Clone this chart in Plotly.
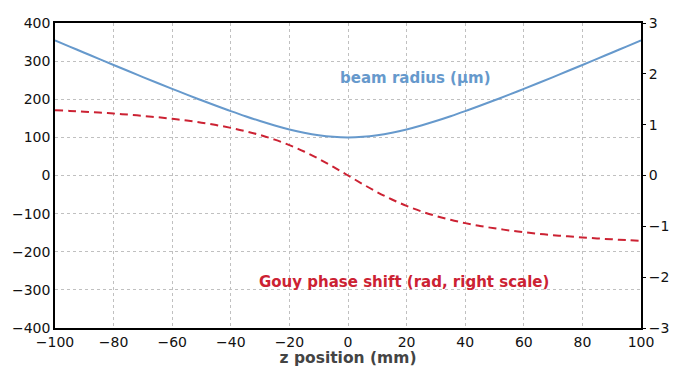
import plotly.graph_objects as go

z_mm = [-100, -95, -90, -85, -80, -75, -70, -65, -60, -55, -50, -45, -40, -35, -30, -25, -20, -15, -10, -5,
        0, 5, 10, 15, 20, 25, 30, 35, 40, 45, 50, 55, 60, 65, 70, 75, 80, 85, 90, 95, 100]
beam_radius_um = [354.5, 338.2, 322.0, 305.9, 289.9, 274.0, 258.2, 242.7, 227.3, 212.1, 197.3, 182.8, 168.9,
                  155.5, 142.9, 131.3, 120.9, 112.3, 105.6, 101.4, 100.0, 101.4, 105.6, 112.3, 120.9, 131.3,
                  142.9, 155.5, 168.9, 182.8, 197.3, 212.1, 227.3, 242.7, 258.2, 274.0, 289.9, 305.9, 322.0,
                  338.2, 354.5]
gouy_rad = [1.285, 1.271, 1.255, 1.238, 1.219, 1.197, 1.173, 1.146, 1.116, 1.080, 1.039, 0.992, 0.937,
            0.872, 0.796, 0.705, 0.598, 0.472, 0.328, 0.168, 0.0, -0.168, -0.328, -0.472, -0.598, -0.705,
            -0.796, -0.872, -0.937, -0.992, -1.039, -1.080, -1.116, -1.146, -1.173, -1.197, -1.219, -1.238,
            -1.255, -1.271, -1.285]

BLUE = "#6699cc"
RED = "#cc2233"
FONT = "DejaVu Sans, Verdana, sans-serif"

fig = go.Figure()
fig.add_trace(go.Scatter(x=z_mm, y=beam_radius_um, mode="lines", line=dict(color=BLUE, width=2),
                         line_shape="spline", showlegend=False))
fig.add_trace(go.Scatter(x=z_mm, y=gouy_rad, mode="lines", yaxis="y2",
                         line=dict(color=RED, width=2, dash="8px,5px"), line_shape="spline",
                         showlegend=False))

grid = dict(showgrid=True, gridcolor="#c0c0c0", griddash="3px,3px", gridwidth=1)
fig.update_layout(
    width=684, height=359,
    margin=dict(l=47, r=51, t=15, b=39),
    plot_bgcolor="white", paper_bgcolor="white",
    font=dict(family=FONT, size=14, color="#111"),
    xaxis=dict(range=[-100, 100], dtick=20, tick0=-100, showline=True, linecolor="black", linewidth=1.5,
               mirror=True, ticks="", zeroline=False, automargin=False,
               title=dict(text="<b>z position (mm)</b>", font=dict(size=15.5, color="#444"), standoff=7),
               **grid),
    yaxis=dict(range=[-400, 400], dtick=100, showline=True, linecolor="black", linewidth=1.5,
               mirror=True, ticks="", zeroline=False, automargin=False, **grid),
    yaxis2=dict(range=[-3, 3], dtick=1, overlaying="y", side="right", showgrid=False, zeroline=False,
                showline=False, ticks="outside", ticklen=4, tickcolor="black", automargin=False),
    annotations=[
        dict(x=23, y=255, xref="x", yref="y", text="<b>beam radius (µm)</b>", showarrow=False,
             font=dict(size=15, color=BLUE, family=FONT)),
        dict(x=19, y=-280, xref="x", yref="y", text="<b>Gouy phase shift (rad, right scale)</b>",
             showarrow=False, font=dict(size=15, color=RED, family=FONT)),
    ],
)

fig.write_html("out.html")
